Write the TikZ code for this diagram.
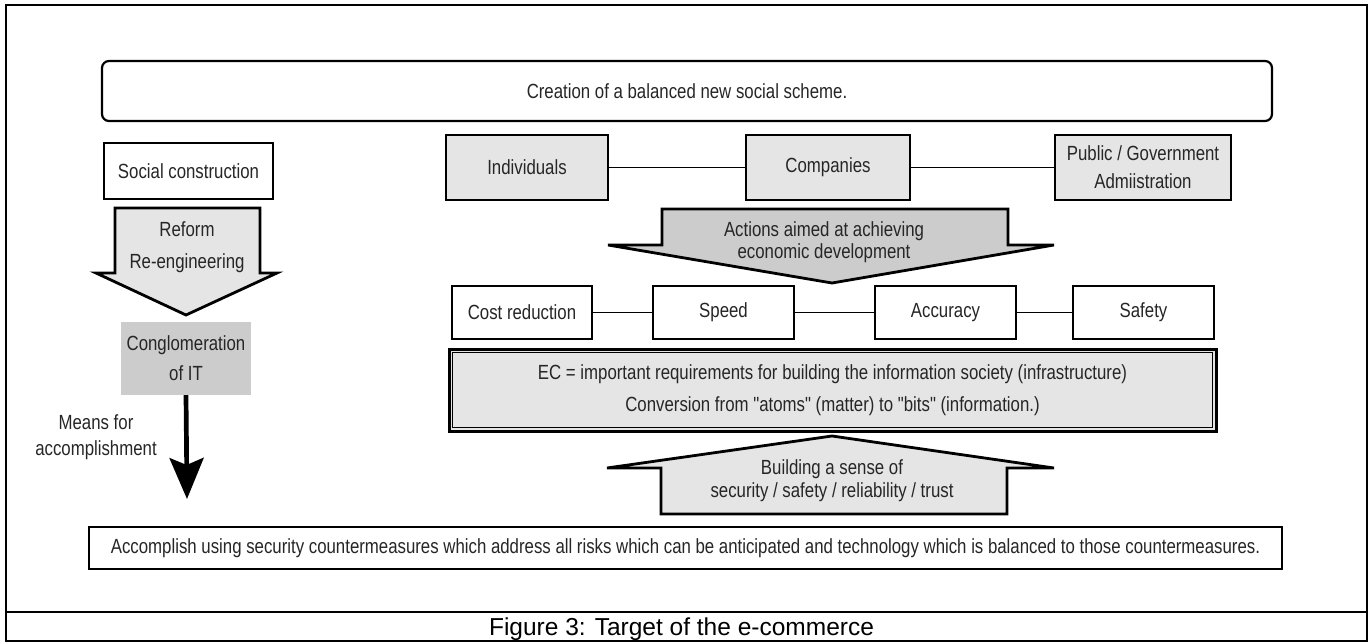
\documentclass[tikz,border=0pt]{standalone}
\usepackage{fontspec}
\setmainfont{Liberation Sans}
\newfontfamily\narrowfont{Liberation Sans}[FakeStretch=0.82]
\usetikzlibrary{arrows.meta}
\definecolor{lightfill}{gray}{0.90}
\definecolor{midfill}{gray}{0.80}
\tikzset{
  txt/.style={font=\narrowfont\fontsize{20.5}{24}\selectfont, align=center, text=black!85},
  thinbox/.style={txt, draw, line width=1.2pt, fill=white, inner sep=0pt},
  heavybox/.style={txt, draw, line width=2.6pt, fill=lightfill, inner sep=0pt},
  blockarrow/.style={draw, line width=2.8pt, line join=miter},
  link/.style={line width=1.2pt},
}

\begin{document}
\begin{tikzpicture}[x=1pt,y=-1pt]
  \path[use as bounding box] (0,0) rectangle (1370,643);
  % frame and caption
  \draw[line width=2pt] (6,5) rectangle (1367,641);
  \draw[line width=2pt] (6,612) -- (1367,612);
  \node[font=\fontsize{24.5}{28}\selectfont, anchor=base] (caption) at (681.5,635) {Figure 3: Target of the e-commerce};

  % top
  \node[txt, draw, line width=2.2pt, rounded corners=7pt, minimum width=1170pt, minimum height=60pt] (scheme) at (687,91) {Creation of a balanced new social scheme.};

  % left column
  \node[thinbox, minimum width=169pt, minimum height=56pt] (social) at (188.5,171) {Social construction};
  \draw[blockarrow, fill=lightfill] (115,208) -- (260,208) -- (260,273) -- (277,273) -- (186,315) -- (96,273) -- (115,273) -- cycle;
  \node[txt] (reform) at (187,247) {Reform\\[8pt]Re-engineering};
  \node[txt, fill=midfill, minimum width=130pt, minimum height=73pt, inner sep=0pt] (conglo) at (186,358.5) {Conglomeration\\[6pt]of IT};
  \coordinate (meansend) at (187,499);
  \draw[line width=4.7pt, -{Stealth[length=41pt,width=34pt,inset=7pt]}] (conglo.south) -- (meansend);
  \node[txt, font=\narrowfont\fontsize{20.5}{26.5}\selectfont] (means) at (96,437) {Means for\\accomplishment};

  % actors
  \node[heavybox, minimum width=162pt, minimum height=65pt] (indiv) at (527,167.5) {Individuals};
  \node[heavybox, minimum width=164pt, minimum height=65pt] (comp) at (828,167.5) {Companies};
  \node[heavybox, minimum width=176pt, minimum height=65pt] (public) at (1143,167.5) {Public / Government\\[4pt]Admiistration};
  \draw[link] (indiv) -- (comp);
  \draw[link] (comp) -- (public);

  % actions arrow
  \draw[blockarrow, fill=midfill] (662,209) -- (1008,209) -- (1008,245) -- (1054,245) -- (832,283) -- (608,245) -- (662,245) -- cycle;
  \node[txt, font=\narrowfont\fontsize{20.5}{21.5}\selectfont] (actions) at (824,242) {Actions aimed at achieving\\economic development};

  % goals
  \node[thinbox, line width=2pt, minimum width=140pt, minimum height=53pt] (cost) at (522,312.5) {Cost reduction};
  \node[thinbox, line width=2pt, minimum width=141pt, minimum height=53pt] (speed) at (723.5,312.5) {Speed};
  \node[thinbox, line width=2pt, minimum width=141pt, minimum height=53pt] (accur) at (945.5,312.5) {Accuracy};
  \node[thinbox, line width=2pt, minimum width=141pt, minimum height=53pt] (safety) at (1143.5,312.5) {Safety};
  \draw[link] (cost) -- (speed);
  \draw[link] (speed) -- (accur);
  \draw[link] (accur) -- (safety);

  % EC box
  \node[heavybox, line width=3pt, minimum width=767pt, minimum height=82pt] (ec) at (832.5,390) {EC = important requirements for building the information society (infrastructure)\\[8pt]Conversion from "atoms" (matter) to "bits" (information.)};
  \draw[line width=1pt] ([shift={(5pt,-5pt)}]ec.north west) rectangle ([shift={(-5pt,5pt)}]ec.south east);

  % building arrow
  \draw[blockarrow, fill=lightfill] (832,436) -- (1054,468) -- (1007,468) -- (1007,514) -- (661,514) -- (661,468) -- (607,468) -- cycle;
  \node[txt, font=\narrowfont\fontsize{20.5}{23}\selectfont] (trust) at (832,481) {Building a sense of\\security / safety / reliability / trust};

  % bottom
  \node[thinbox, line width=2.2pt, minimum width=1193pt, minimum height=42pt] (accomp) at (685.5,548) {Accomplish using security countermeasures which address all risks which can be anticipated and technology which is balanced to those countermeasures.};
\end{tikzpicture}
\end{document}
